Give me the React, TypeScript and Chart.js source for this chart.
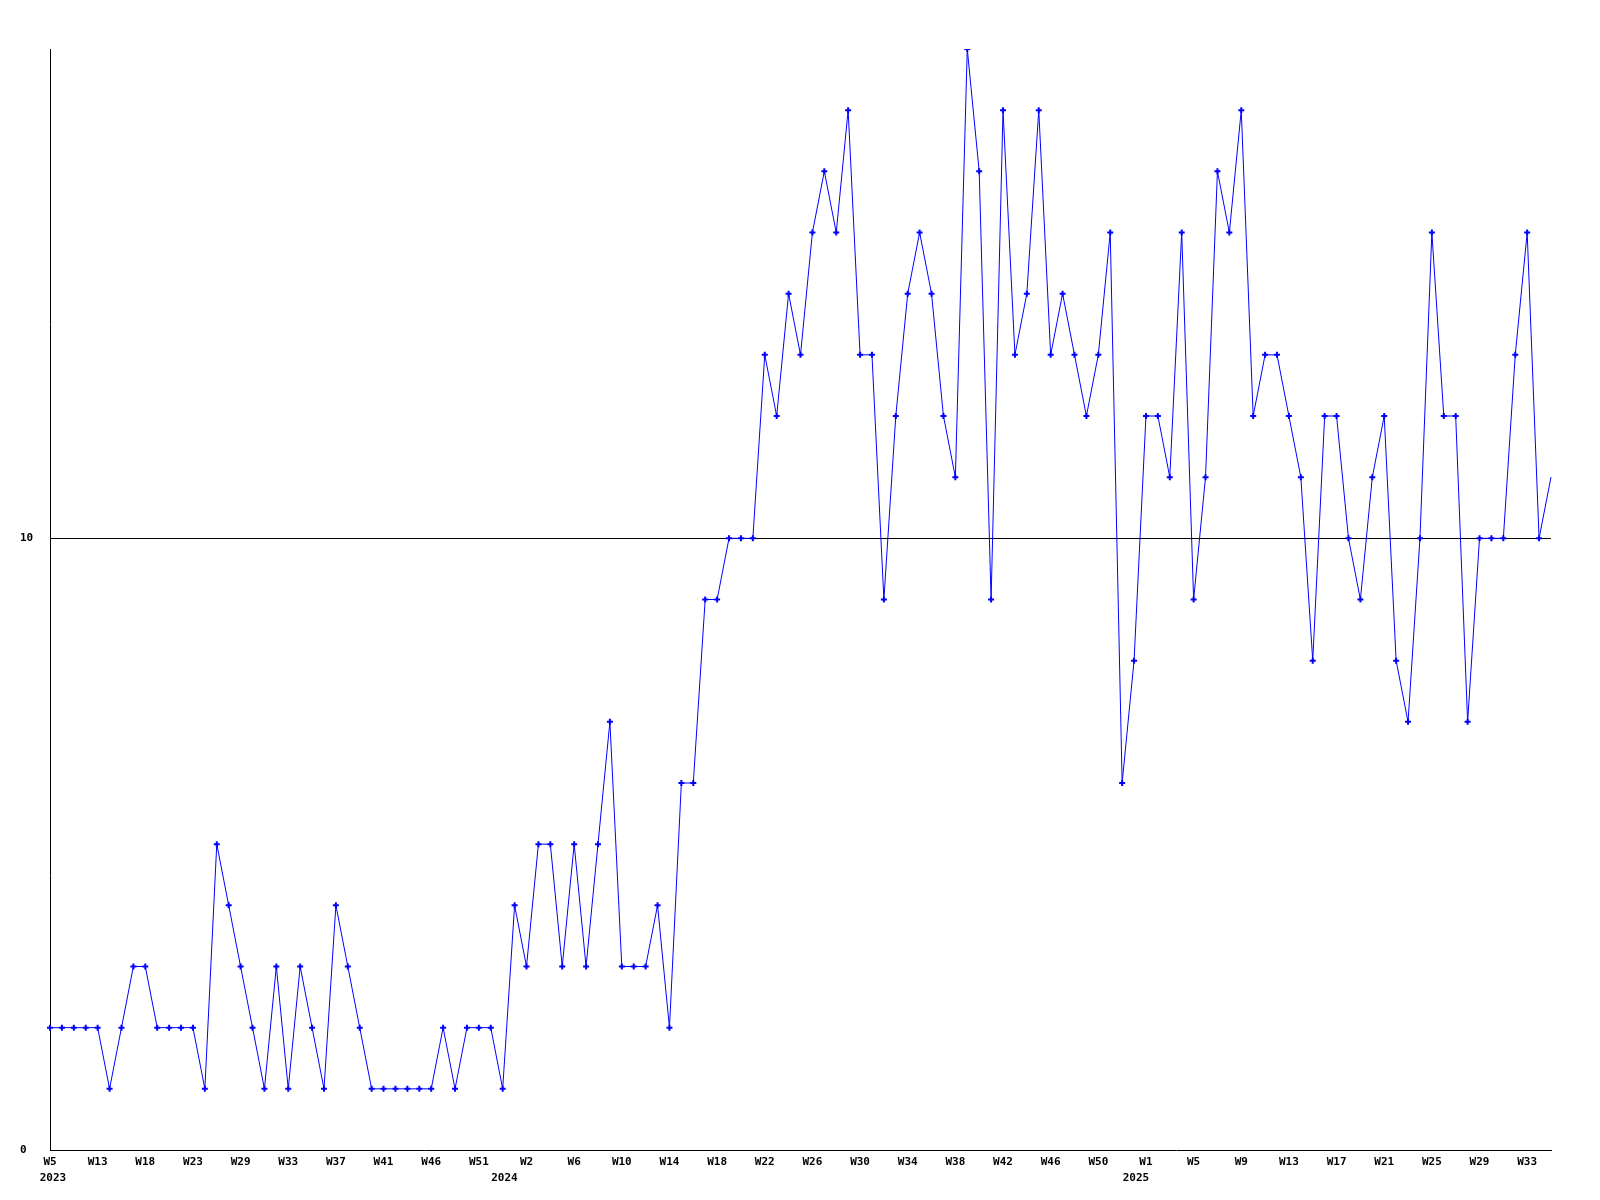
import React, { useEffect, useRef } from "react";
import { Chart, registerables } from "chart.js";

Chart.register(...registerables);

// Tick labels shown every 4th weekly point
const tickWeeks: string[] = [
  "W5", "W13", "W18", "W23", "W29", "W33", "W37", "W41", "W46", "W51",
  "W2", "W6", "W10", "W14", "W18", "W22", "W26", "W30", "W34", "W38", "W42", "W46", "W50",
  "W1", "W5", "W9", "W13", "W17", "W21", "W25", "W29", "W33",
];
// Year labels and their position along the point index scale
const years: string[] = ["2023", "2024", "2025"];
const yearPositions: number[] = [0.25, 38.15, 91.16];

const values: number[] = [
  2, 2, 2, 2, 2, 1, 2, 3, 3, 2, 2, 2, 2, 1, 5, 4, 3, 2, 1, 3,
  1, 3, 2, 1, 4, 3, 2, 1, 1, 1, 1, 1, 1, 2, 1, 2, 2, 2, 1, 4,
  3, 5, 5, 3, 5, 3, 5, 7, 3, 3, 3, 4, 2, 6, 6, 9, 9, 10, 10, 10,
  13, 12, 14, 13, 15, 16, 15, 17, 13, 13, 9, 12, 14, 15, 14, 12, 11, 18, 16, 9,
  17, 13, 14, 17, 13, 14, 13, 12, 13, 15, 6, 8, 12, 12, 11, 15, 9, 11, 16, 15,
  17, 12, 13, 13, 12, 11, 8, 12, 12, 10, 9, 11, 12, 8, 7, 10, 15, 12, 12, 7,
  10, 10, 10, 13, 15, 10, 11,
];

const labels: string[] = values.map((_, i) => (i % 4 === 0 ? tickWeeks[i / 4] || "" : ""));

export default function App() {
  const ref = useRef<HTMLCanvasElement | null>(null);
  useEffect(() => {
    document.body.style.margin = "0";
    const ctx = ref.current!;
    const font = { family: "'DejaVu Sans Mono', monospace", size: 11, weight: "bold" as const };
    const chart = new Chart(ctx, {
      type: "line",
      data: {
        labels,
        datasets: [
          {
            data: values,
            xAxisID: "x",
            borderColor: "#0000ff",
            borderWidth: 1,
            pointStyle: "cross",
            pointRadius: values.map((_, i) => (i === values.length - 1 ? 0 : 3)),
            pointBorderWidth: 2,
            pointBorderColor: "#0000ff",
            pointBackgroundColor: "#0000ff",
            tension: 0,
            fill: false,
          },
        ],
      },
      options: {
        animation: false,
        responsive: false,
        maintainAspectRatio: false,
        devicePixelRatio: 1,
        layout: { padding: { left: 20, top: 49, right: 49, bottom: 0 } },
        plugins: { legend: { display: false }, tooltip: { enabled: false } },
        scales: {
          x: {
            type: "category",
            position: "bottom",
            offset: false,
            grid: { display: false, drawTicks: false },
            border: { display: true, color: "#000", width: 1 },
            ticks: {
              autoSkip: false,
              maxRotation: 0,
              minRotation: 0,
              padding: 6,
              color: "#000",
              font,
              callback: (_v: any, i: number) => (i % 4 === 0 ? tickWeeks[i / 4] : null),
            },
            afterFit: (s: any) => {
              s.height = 20;
            },
          },
          x2: {
            type: "linear",
            position: "bottom",
            min: 0,
            max: values.length - 1,
            offset: false,
            afterBuildTicks: (s: any) => {
              s.ticks = yearPositions.map((v) => ({ value: v }));
            },
            grid: { display: false, drawTicks: false },
            border: { display: false },
            ticks: {
              autoSkip: false,
              maxRotation: 0,
              minRotation: 0,
              padding: 2,
              color: "#000",
              font,
              callback: (v: any) => {
                const k = yearPositions.indexOf(v);
                return k >= 0 ? years[k] : null;
              },
            },
            afterFit: (s: any) => {
              s.height = 30;
            },
          },
          y: {
            min: 0,
            max: 18,
            afterBuildTicks: (s: any) => {
              s.ticks = [{ value: 0 }, { value: 10 }];
            },
            grid: {
              drawTicks: false,
              color: (c: any) => (c.tick && c.tick.value === 10 ? "#000" : "rgba(0,0,0,0)"),
              lineWidth: 1,
            },
            border: { display: true, color: "#000", width: 1 },
            ticks: {
              color: "#000",
              font,
              crossAlign: "far",
              padding: 4,
            },
            afterFit: (s: any) => {
              s.width = 30;
            },
          },
        },
      },
    });
    return () => chart.destroy();
  }, []);
  return (
    <div style={{ position: "absolute", left: 0, top: 0, width: 1600, height: 1200, background: "#fff" }}>
      <canvas ref={ref} width={1600} height={1200} style={{ width: 1600, height: 1200 }} />
    </div>
  );
}
